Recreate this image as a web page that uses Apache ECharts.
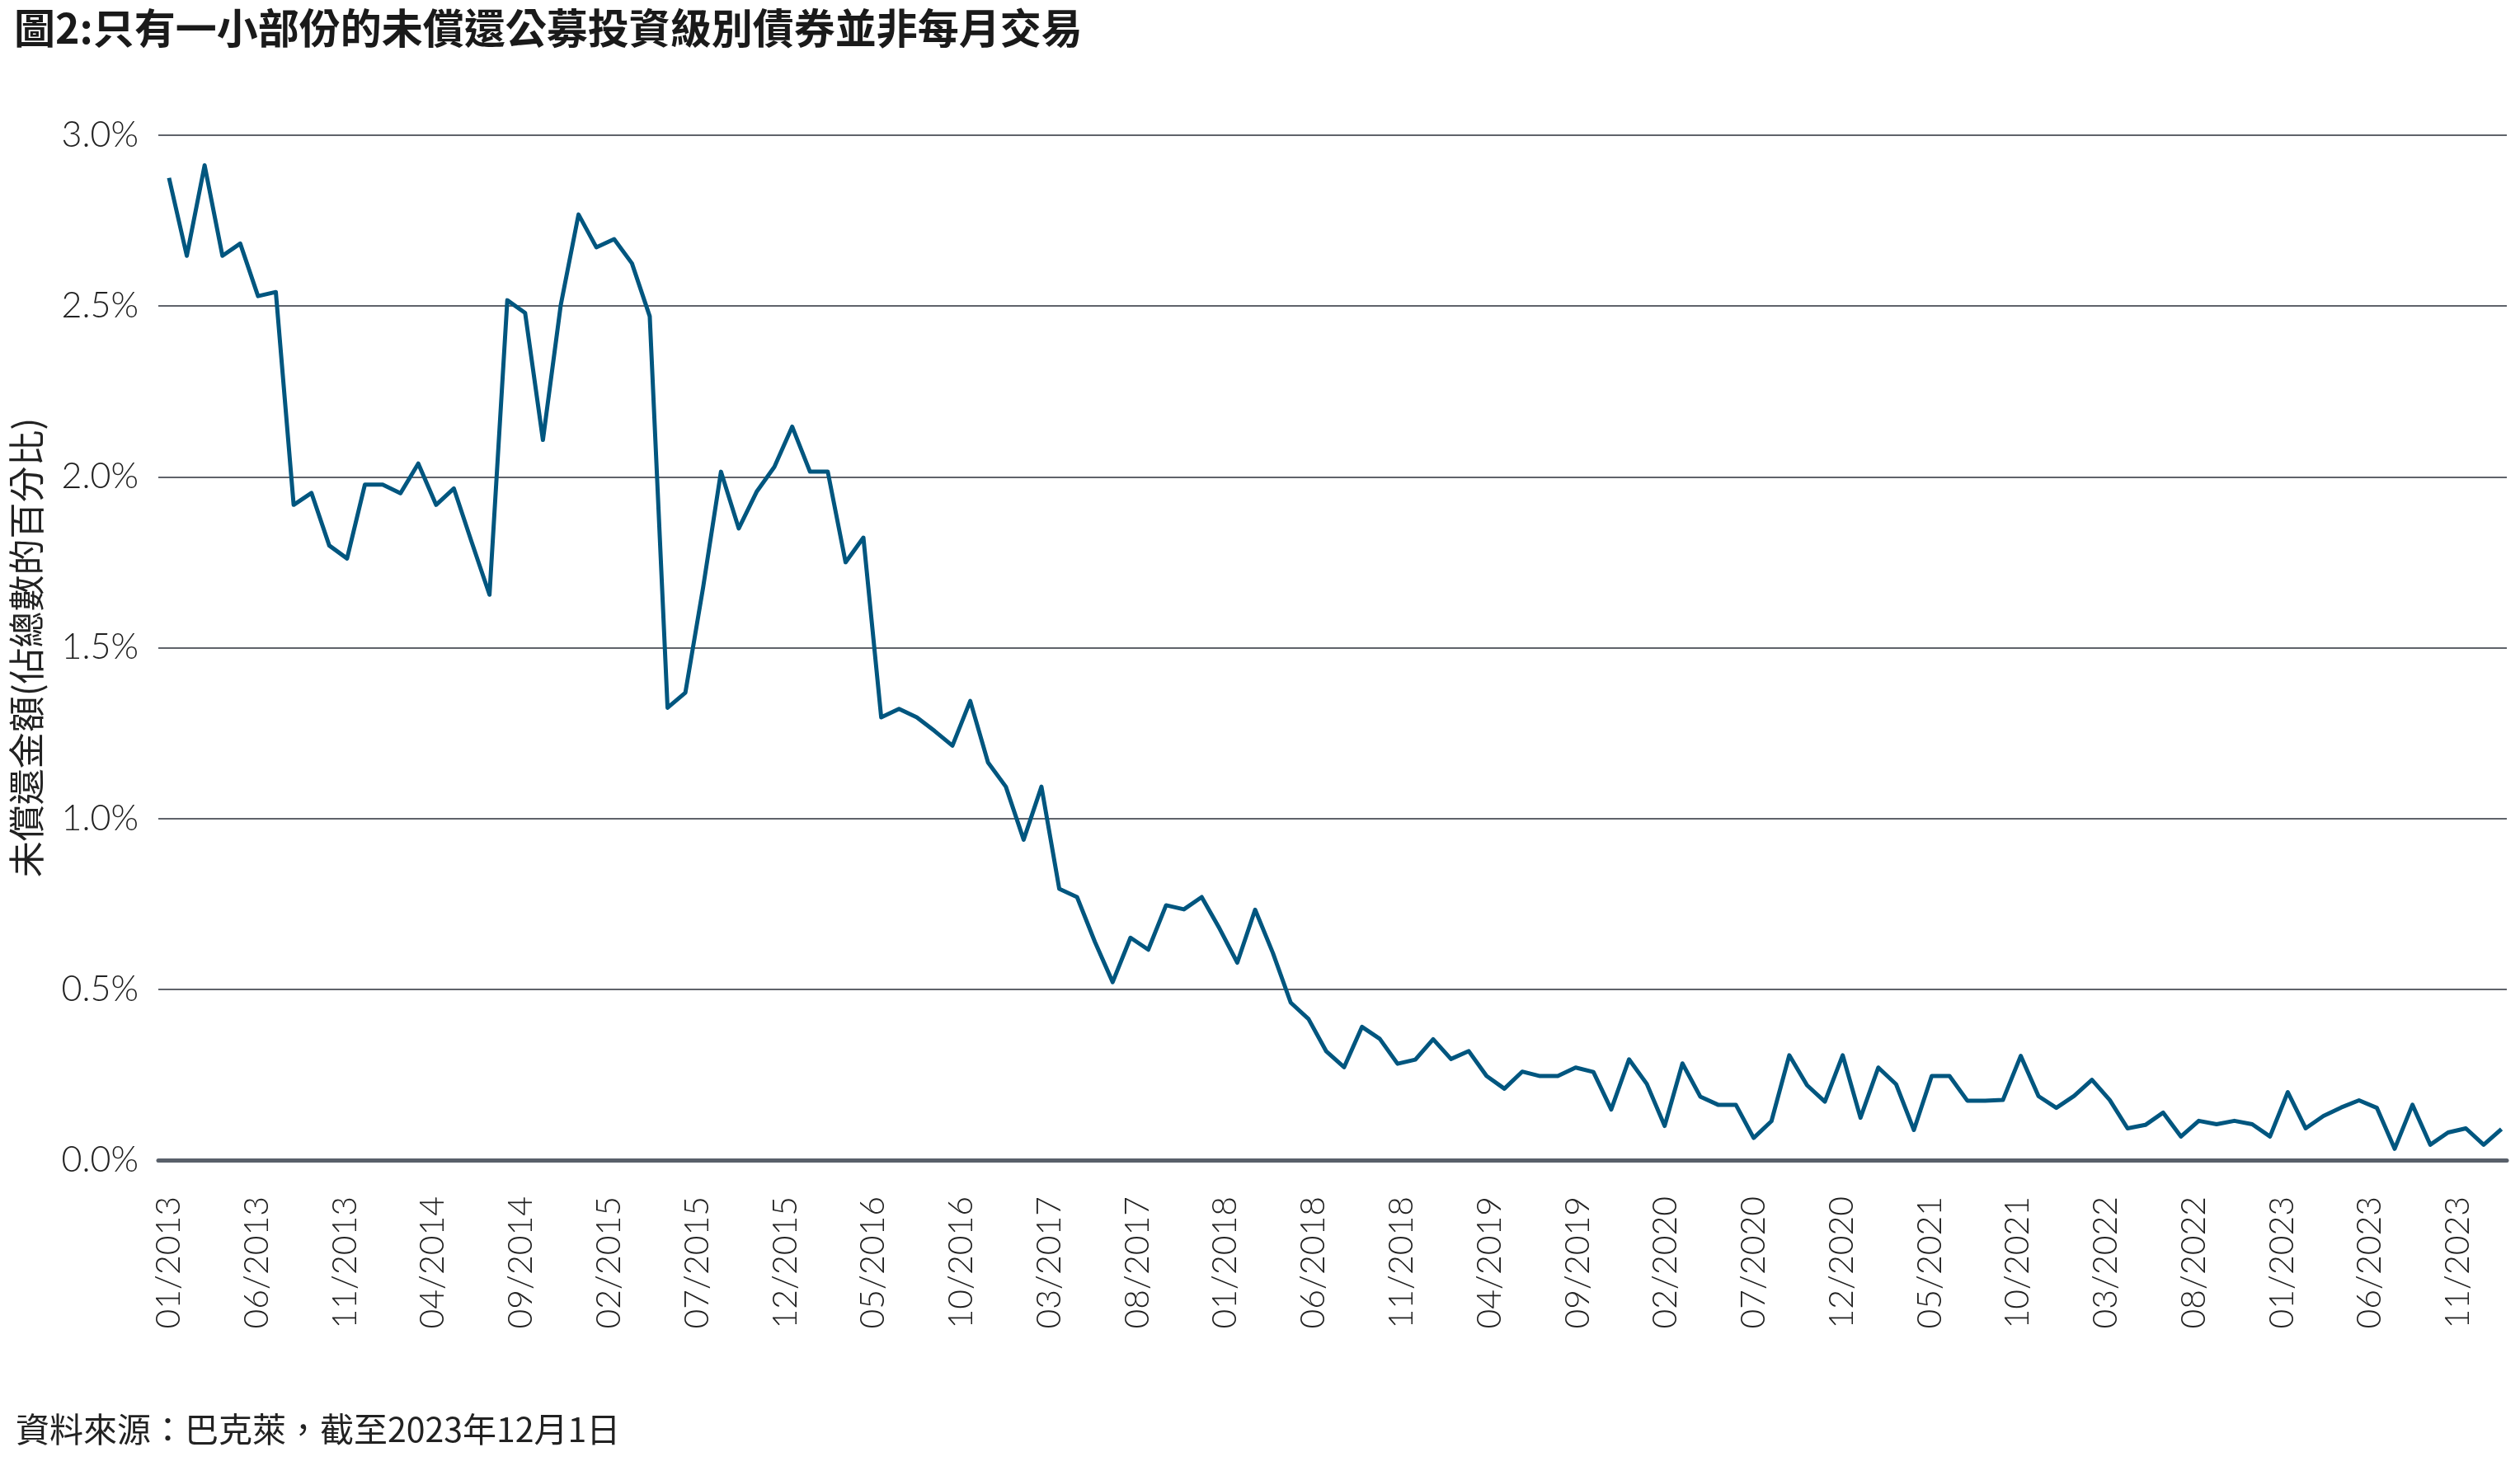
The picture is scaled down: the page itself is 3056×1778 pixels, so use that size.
<!DOCTYPE html>
<html>
<head>
<meta charset="utf-8">
<script src="https://cdn.jsdelivr.net/npm/echarts@6/dist/echarts.min.js"></script>
<style>
html,body{margin:0;padding:0;background:#fff;}
#c{width:3056px;height:1778px;}
</style>
</head>
<body>
<div id="c"></div>
<script>
const titleText = '圖2:只有一小部份的未償還公募投資級別債券並非每月交易';
const sourceText = '資料來源：巴克萊，截至2023年12月1日';
const yAxisName = '未償還金額(佔總數的百分比)';

// x tick labels as printed on the reference axis
const tickLabels = ['01/2013','06/2013','11/2013','04/2014','09/2014','02/2015','07/2015','12/2015',
  '05/2016','10/2016','03/2017','08/2017','01/2018','06/2018','11/2018','04/2019','09/2019',
  '02/2020','07/2020','12/2020','05/2021','10/2021','03/2022','08/2022','01/2023','06/2023','11/2023'];
// spacing of the printed labels, measured in data-point units
const tickStep = 4.945;

// y ticks
const yTicks = [0, 0.5, 1.0, 1.5, 2.0, 2.5, 3.0];

// monthly share of outstanding IG bonds not traded (%), from 01/2013
const values = [
  2.875, 2.647, 2.912, 2.647, 2.683, 2.529, 2.541, 1.918, 1.953, 1.799,
  1.761, 1.977, 1.977, 1.952, 2.039, 1.918, 1.966, 1.809, 1.655, 2.517,
  2.480, 2.108, 2.502, 2.768, 2.672, 2.696, 2.625, 2.470, 1.324, 1.368,
  1.677, 2.015, 1.849, 1.956, 2.029, 2.147, 2.015, 2.015, 1.750, 1.822,
  1.296, 1.321, 1.296, 1.256, 1.213, 1.344, 1.164, 1.093, 0.938, 1.093,
  0.794, 0.770, 0.639, 0.521, 0.651, 0.616, 0.746, 0.734, 0.770, 0.678,
  0.578, 0.733, 0.606, 0.461, 0.413, 0.318, 0.272, 0.390, 0.355, 0.282,
  0.294, 0.354, 0.296, 0.319, 0.246, 0.209, 0.259, 0.246, 0.246, 0.271,
  0.258, 0.148, 0.295, 0.223, 0.100, 0.283, 0.186, 0.162, 0.162, 0.065,
  0.114, 0.307, 0.219, 0.171, 0.307, 0.124, 0.271, 0.222, 0.088, 0.246,
  0.246, 0.174, 0.174, 0.176, 0.305, 0.187, 0.153, 0.188, 0.235, 0.176,
  0.093, 0.103, 0.139, 0.069, 0.115, 0.105, 0.115, 0.105, 0.069, 0.199,
  0.093, 0.129, 0.154, 0.175, 0.153, 0.033, 0.162, 0.045, 0.081, 0.093,
  0.045, 0.091
];

const seriesData = values.map((v, i) => [i, v]);
const tickPositions = tickLabels.map((_, k) => k * tickStep);

const labelFont = "Lato, 'Noto Sans', sans-serif";
const cjkFont = "'Noto Sans CJK TC', 'Noto Sans CJK SC', sans-serif";

const chart = echarts.init(document.getElementById('c'), null, {renderer: 'canvas'});
chart.setOption({
  backgroundColor: '#ffffff',
  animation: false,
  title: [
    {
      text: titleText,
      left: 12, top: 4,
      textStyle: {fontFamily: cjkFont, fontWeight: 'bold', fontSize: 50, color: '#1a1a1a'}
    },
    {
      text: sourceText,
      left: 14, top: 1708,
      textStyle: {fontFamily: cjkFont, fontWeight: 'normal', fontSize: 41, color: '#222'}
    }
  ],
  grid: {left: 192, right: 16, top: 164, bottom: 371, containLabel: false},
  xAxis: {
    type: 'value',
    min: -0.6,
    max: 131.3,
    splitLine: {show: false},
    axisTick: {show: false},
    axisLine: {show: true, onZero: false, lineStyle: {color: '#59606a', width: 5}},
    axisLabel: {
      customValues: tickPositions,
      rotate: 90,
      margin: 44,
      fontFamily: labelFont,
      fontWeight: 300,
      fontSize: 41,
      color: '#222',
      formatter: v => tickLabels[Math.round(v / tickStep)]
    }
  },
  yAxis: {
    type: 'value',
    min: yTicks[0],
    max: yTicks[yTicks.length - 1],
    interval: 0.5,
    name: yAxisName,
    nameLocation: 'middle',
    nameRotate: 90,
    nameGap: 138,
    nameTextStyle: {fontFamily: cjkFont, fontSize: 44, color: '#222'},
    axisLine: {show: false},
    axisTick: {show: false},
    splitLine: {show: true, lineStyle: {color: '#5f636a', width: 2}},
    axisLabel: {
      margin: 24,
      fontFamily: labelFont,
      fontWeight: 300,
      fontSize: 43,
      color: '#222',
      formatter: v => v.toFixed(1) + '%'
    }
  },
  series: [{
    type: 'line',
    data: seriesData,
    showSymbol: false,
    symbol: 'none',
    lineStyle: {color: '#00567f', width: 5, join: 'round'},
    z: 3
  }]
});
</script>
</body>
</html>
